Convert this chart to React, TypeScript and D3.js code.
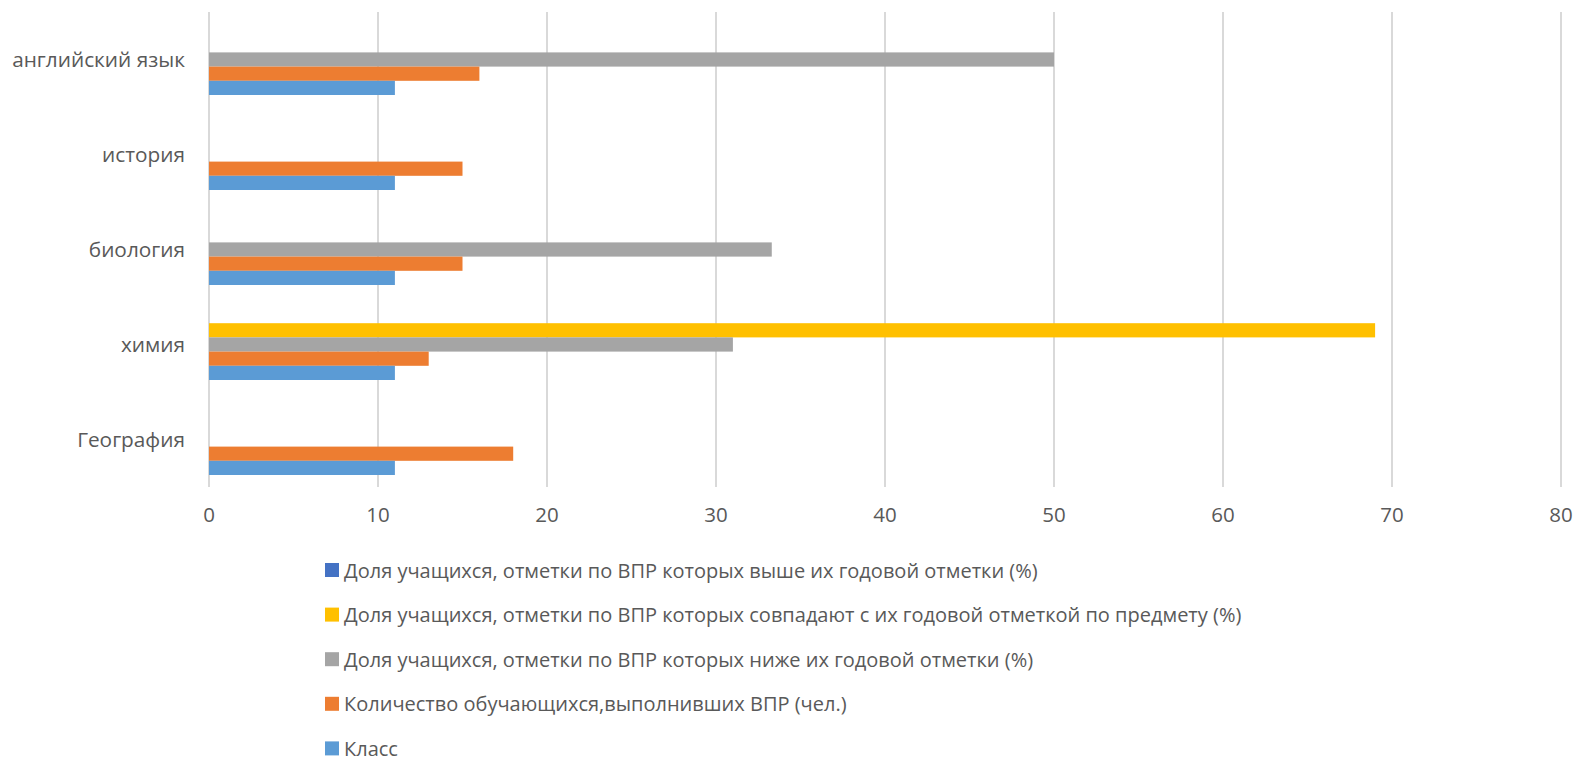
import React from "react";
import * as d3 from "d3";

const categories = ["английский язык", "история", "биология", "химия", "География"];
const seriesNames = [
  "Доля учащихся, отметки по ВПР которых выше их годовой отметки (%)",
  "Доля учащихся, отметки по ВПР которых совпадают с их годовой отметкой по предмету (%)",
  "Доля учащихся, отметки по ВПР которых ниже их годовой отметки (%)",
  "Количество обучающихся,выполнивших ВПР (чел.)",
  "Класс",
];
const seriesColors = ["#4472c4", "#ffc000", "#a5a5a5", "#ed7d31", "#5b9bd5"];
// values per series, in category order
const higherVals = [0, 0, 0, 0, 0];
const sameVals = [0, 0, 0, 69, 0];
const lowerVals = [50, 0, 33.3, 31, 0];
const countVals = [16, 15, 15, 13, 18];
const classVals = [11, 11, 11, 11, 11];
const seriesValues = [higherVals, sameVals, lowerVals, countVals, classVals];
const xTicks = [0, 10, 20, 30, 40, 50, 60, 70, 80];

const W = 1578;
const H = 766;
const plotLeft = 209;
const plotRight = 1561;
const plotTop = 12;
const plotBottom = 487;
const FONT = "'Open Sans', 'DejaVu Sans', sans-serif";
const TEXT = "#595959";

export default function App() {
  const x = d3.scaleLinear().domain([0, 80]).range([plotLeft, plotRight]);
  const y = d3
    .scaleBand<string>()
    .domain(categories)
    .range([plotTop, plotBottom])
    .paddingInner(0)
    .paddingOuter(0);
  const bw = y.bandwidth();
  const barH = 14.2;
  const groupH = barH * seriesNames.length;
  const inner = d3
    .scaleBand<number>()
    .domain(d3.range(seriesNames.length))
    .range([(bw - groupH) / 2, (bw + groupH) / 2]);

  const legendY0 = 570;
  const legendStep = 44.6;

  return (
    <svg
      width={W}
      height={H}
      style={{ position: "absolute", left: 0, top: 0, background: "#fff" }}
      fontFamily={FONT}
    >
      <rect x={0} y={0} width={W} height={H} fill="#fff" />
      {xTicks.map((t) => (
        <line
          key={"g" + t}
          x1={x(t)}
          x2={x(t)}
          y1={plotTop}
          y2={plotBottom}
          stroke="#d9d9d9"
          strokeWidth={2}
        />
      ))}
      {categories.map((c, ci) => (
        <g key={c} transform={`translate(0,${y(c)})`}>
          {seriesValues.map((vals, si) =>
            vals[ci] > 0 ? (
              <rect
                key={si}
                x={x(0)}
                y={inner(si)}
                width={x(vals[ci]) - x(0)}
                height={inner.bandwidth()}
                fill={seriesColors[si]}
              />
            ) : null
          )}
          <text
            x={185}
            y={bw / 2 - 1}
            textAnchor="end"
            dominantBaseline="central"
            fontSize={20.8}
            fill={TEXT}
          >
            {c}
          </text>
        </g>
      ))}
      {xTicks.map((t) => (
        <text
          key={"t" + t}
          x={x(t)}
          y={514}
          textAnchor="middle"
          dominantBaseline="central"
          fontSize={20.5}
          fill={TEXT}
        >
          {t}
        </text>
      ))}
      {seriesNames.map((n, i) => (
        <g key={n} transform={`translate(325,${legendY0 + i * legendStep})`}>
          <rect x={0} y={-7} width={14} height={14} fill={seriesColors[i]} />
          <text x={19} y={0} dominantBaseline="central" fontSize={20} fill={TEXT}>
            {n}
          </text>
        </g>
      ))}
    </svg>
  );
}
